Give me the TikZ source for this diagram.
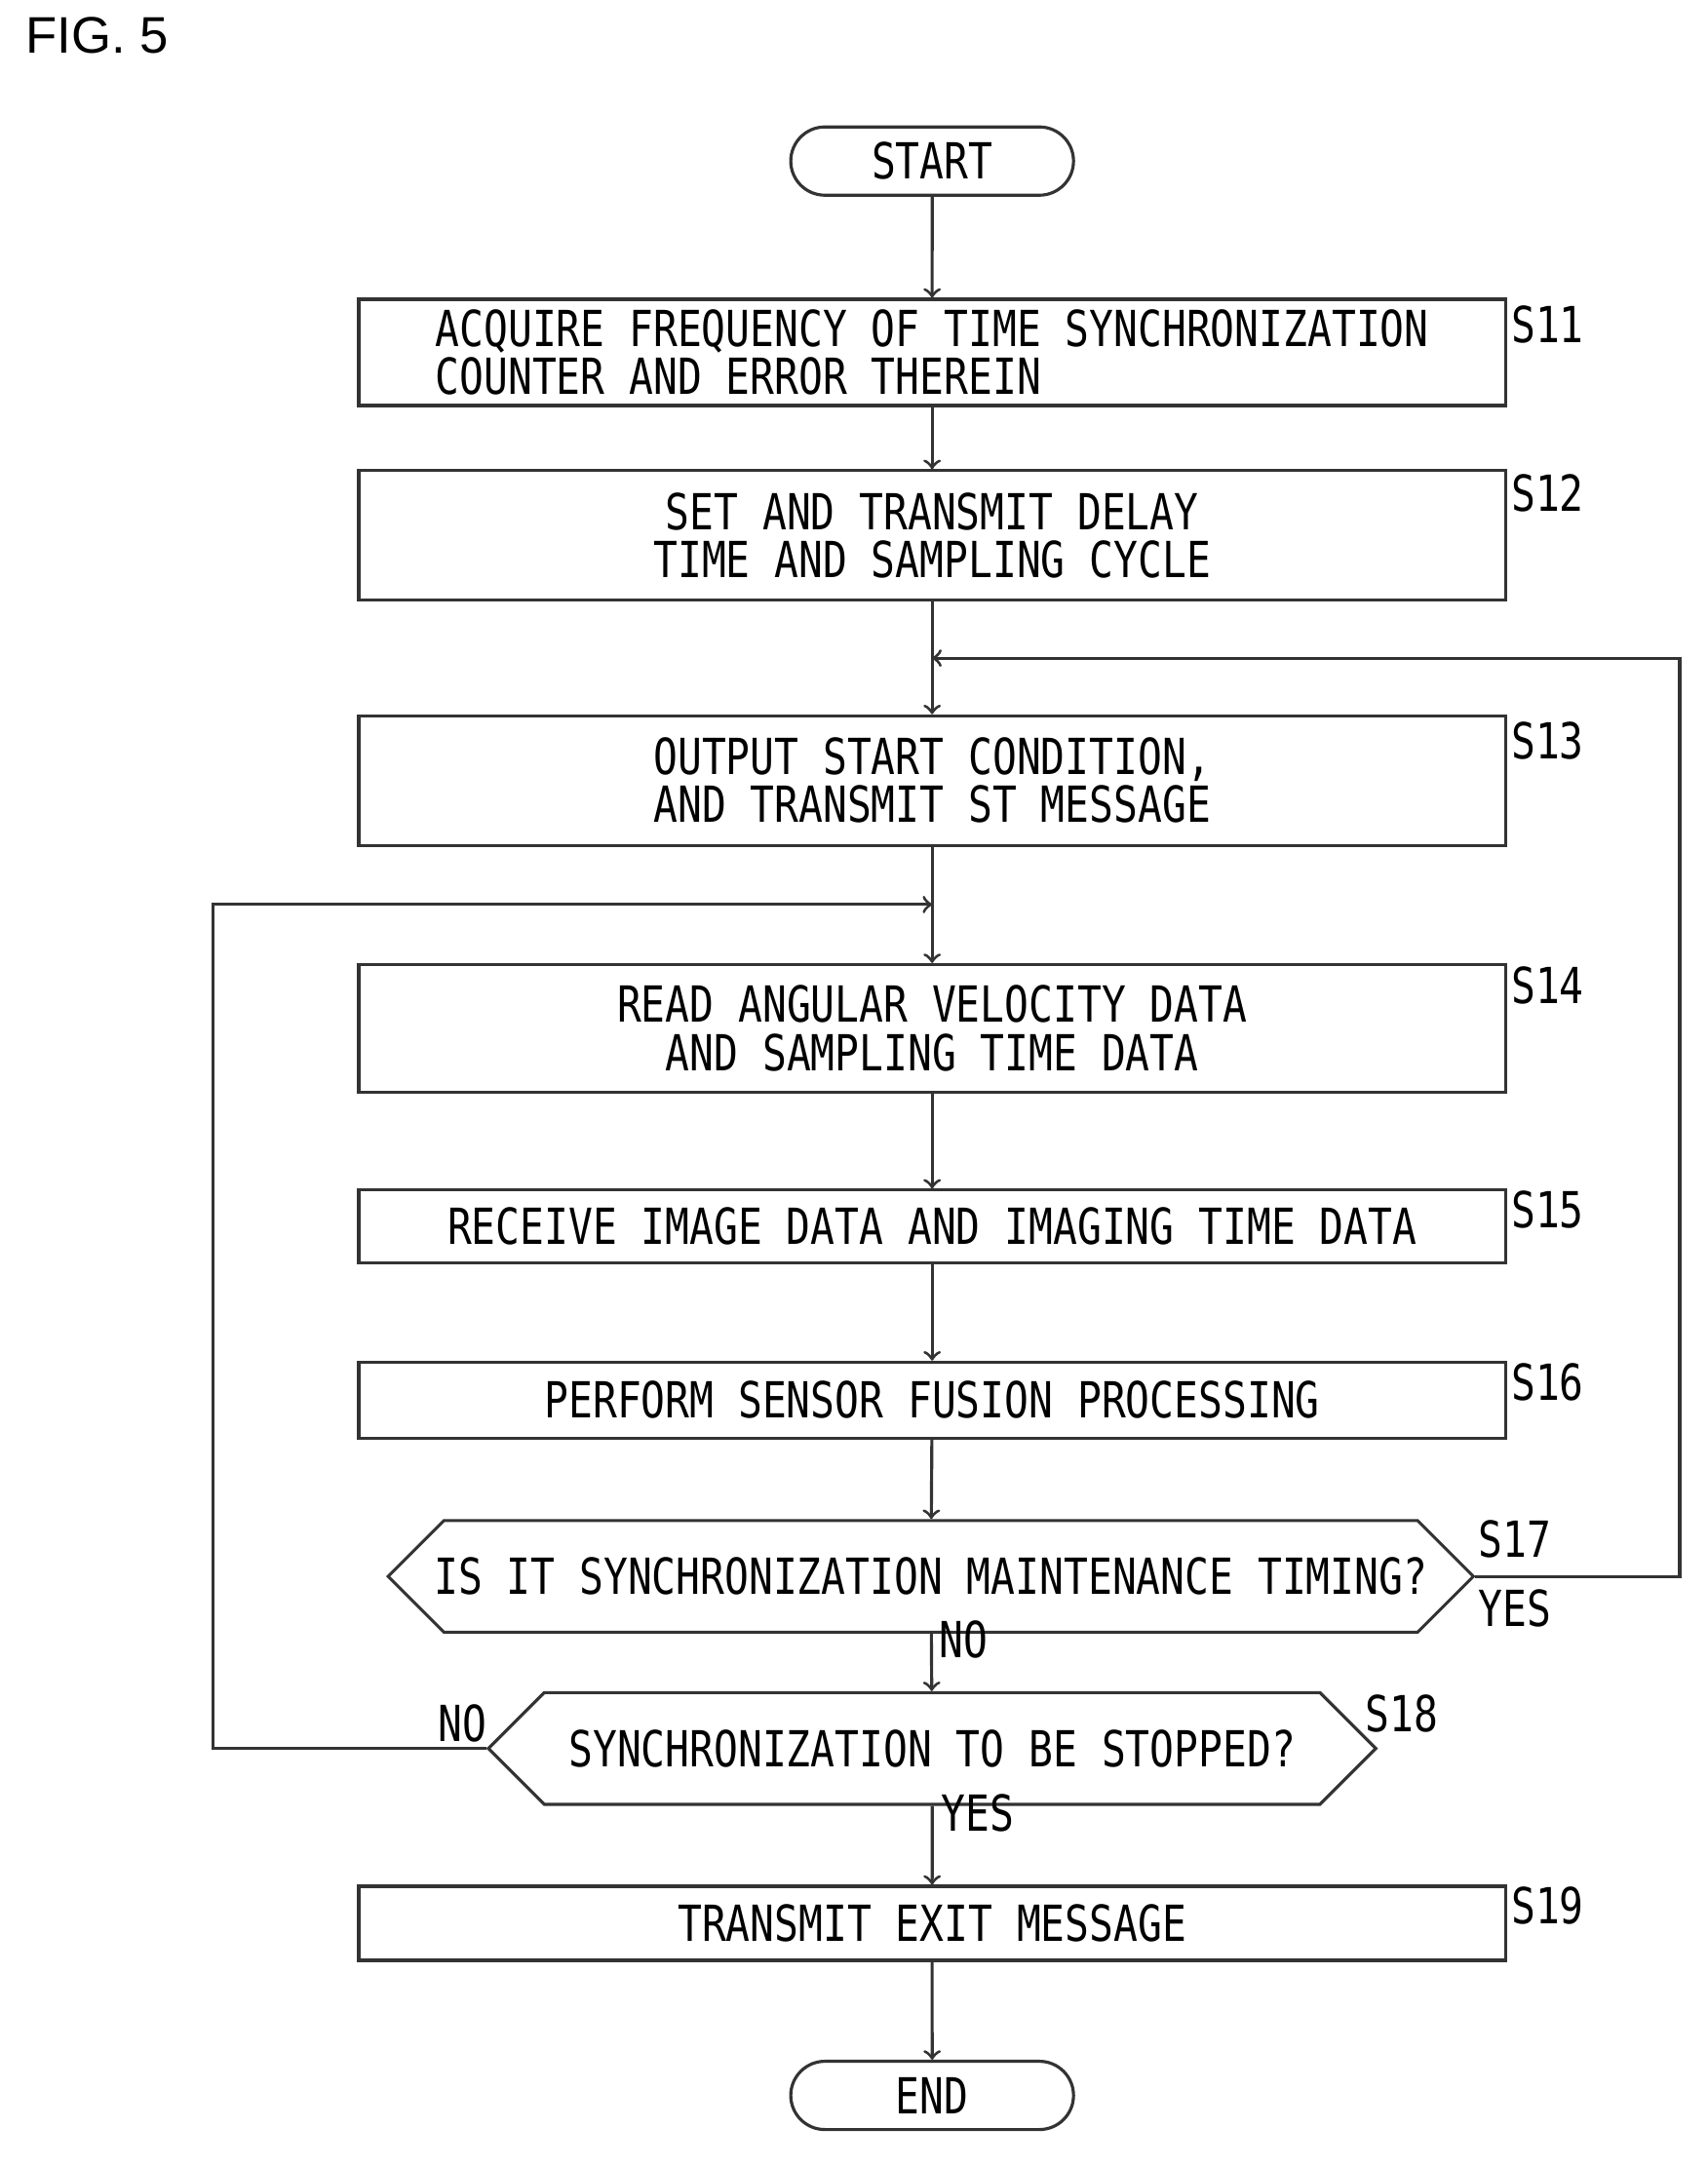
\documentclass[tikz,border=0pt]{standalone}
\usepackage{fontspec}
\setmainfont{Liberation Sans}
\newfontfamily\flowfont[FakeStretch=0.81]{DejaVu Sans Mono}
\usetikzlibrary{shapes}
\usetikzlibrary{positioning}
\tikzset{stepbox/.style={draw=black!80,
                        line width=0.9pt,
                        font=\flowfont\fontsize{14.5}{14}\selectfont,
                        align=center,
                        inner sep=0pt
                        },
        terminal/.style={stepbox,
                        rounded rectangle,
                        minimum width=29mm,
                        minimum height=7mm
        },
        decision/.style={stepbox,
                        chamfered rectangle,
                        chamfered rectangle xsep=4mm,
                        chamfered rectangle sep=3.8mm,
                        minimum height=7.6mm
        },
        steplabel/.style={font=\flowfont\fontsize{14.5}{17}\selectfont},
        flow/.style={->,line width=0.9pt,black!80}
}

\begin{document}
\begin{tikzpicture}
    [x=0.1412mm,y=-0.1412mm]

    \useasboundingbox (0,0) rectangle (1240,1574);
    \node[anchor=west,font=\fontsize{15}{18}\selectfont] (fig) at (10,26) {FIG. 5};

    % STEPS
    \node[terminal] (start) at (677,117) {START};

    \node[stepbox, minimum width=117.6mm, minimum height=10.9mm, align=left] (s11) at (677,256)
        {ACQUIRE FREQUENCY OF TIME SYNCHRONIZATION\\COUNTER AND ERROR THEREIN\hspace{14em}};
    \node[stepbox, minimum width=117.6mm, minimum height=13.3mm] (s12) at (677,389)
        {SET AND TRANSMIT DELAY\\TIME AND SAMPLING CYCLE};
    \node[stepbox, minimum width=117.6mm, minimum height=13.3mm] (s13) at (677,567)
        {OUTPUT START CONDITION,\\AND TRANSMIT ST MESSAGE};
    \node[stepbox, minimum width=117.6mm, minimum height=13.1mm] (s14) at (677,747)
        {READ ANGULAR VELOCITY DATA\\AND SAMPLING TIME DATA};
    \node[stepbox, minimum width=117.6mm, minimum height=7.5mm] (s15) at (677,891)
        {RECEIVE IMAGE DATA AND IMAGING TIME DATA};
    \node[stepbox, minimum width=117.6mm, minimum height=7.8mm] (s16) at (677,1017)
        {PERFORM SENSOR FUSION PROCESSING};
    \node[decision, minimum width=111.3mm] (s17) at (676,1145)
        {IS IT SYNCHRONIZATION MAINTENANCE TIMING?};
    \node[decision, minimum width=91mm] (s18) at (677,1270)
        {SYNCHRONIZATION TO BE STOPPED?};
    \node[stepbox, minimum width=117.6mm, minimum height=7.6mm] (s19) at (677,1397)
        {TRANSMIT EXIT MESSAGE};
    \node[terminal] (end) at (677,1522) {END};

    % LABELS
    \node[steplabel] (l11) at (1124,236) {S11};
    \node[steplabel] (l12) at (1124,358) {S12};
    \node[steplabel] (l13) at (1124,538) {S13};
    \node[steplabel] (l14) at (1124,716) {S14};
    \node[steplabel] (l15) at (1124,879) {S15};
    \node[steplabel] (l16) at (1124,1004) {S16};
    \node[steplabel] (l17) at (1100,1118) {S17};
    \node[steplabel] (l18) at (1018,1245) {S18};
    \node[steplabel] (l19) at (1124,1384) {S19};
    \node[steplabel] (yes17) at (1100,1168) {YES};
    \node[steplabel] (no17) at (700,1191) {NO};
    \node[steplabel] (no18) at (336,1252) {NO};
    \node[steplabel] (yes18) at (710,1317) {YES};

    \coordinate (loopA) at (1220,1145);
    \coordinate (loopB) at (1220,478);
    \coordinate (joinA) at (677,478);
    \coordinate (backA) at (155,1270);
    \coordinate (backB) at (155,657);
    \coordinate (joinB) at (677,657);

    \draw[flow] (start) -- (s11);
    \draw[flow] (s11) -- (s12);
    \draw[flow] (s12) -- (s13);
    \draw[flow] (s13) -- (s14);
    \draw[flow] (s14) -- (s15);
    \draw[flow] (s15) -- (s16);
    \draw[flow] (s16) -- (s17);
    \draw[flow] (s17) -- (s18);
    \draw[flow] (s18) -- (s19);
    \draw[flow] (s19) -- (end);

    \draw[flow] (s17.east) -- (loopA) -- (loopB) -- (joinA);
    \draw[flow] (s18.west) -- (backA) -- (backB) -- (joinB);

\end{tikzpicture}
\end{document}
